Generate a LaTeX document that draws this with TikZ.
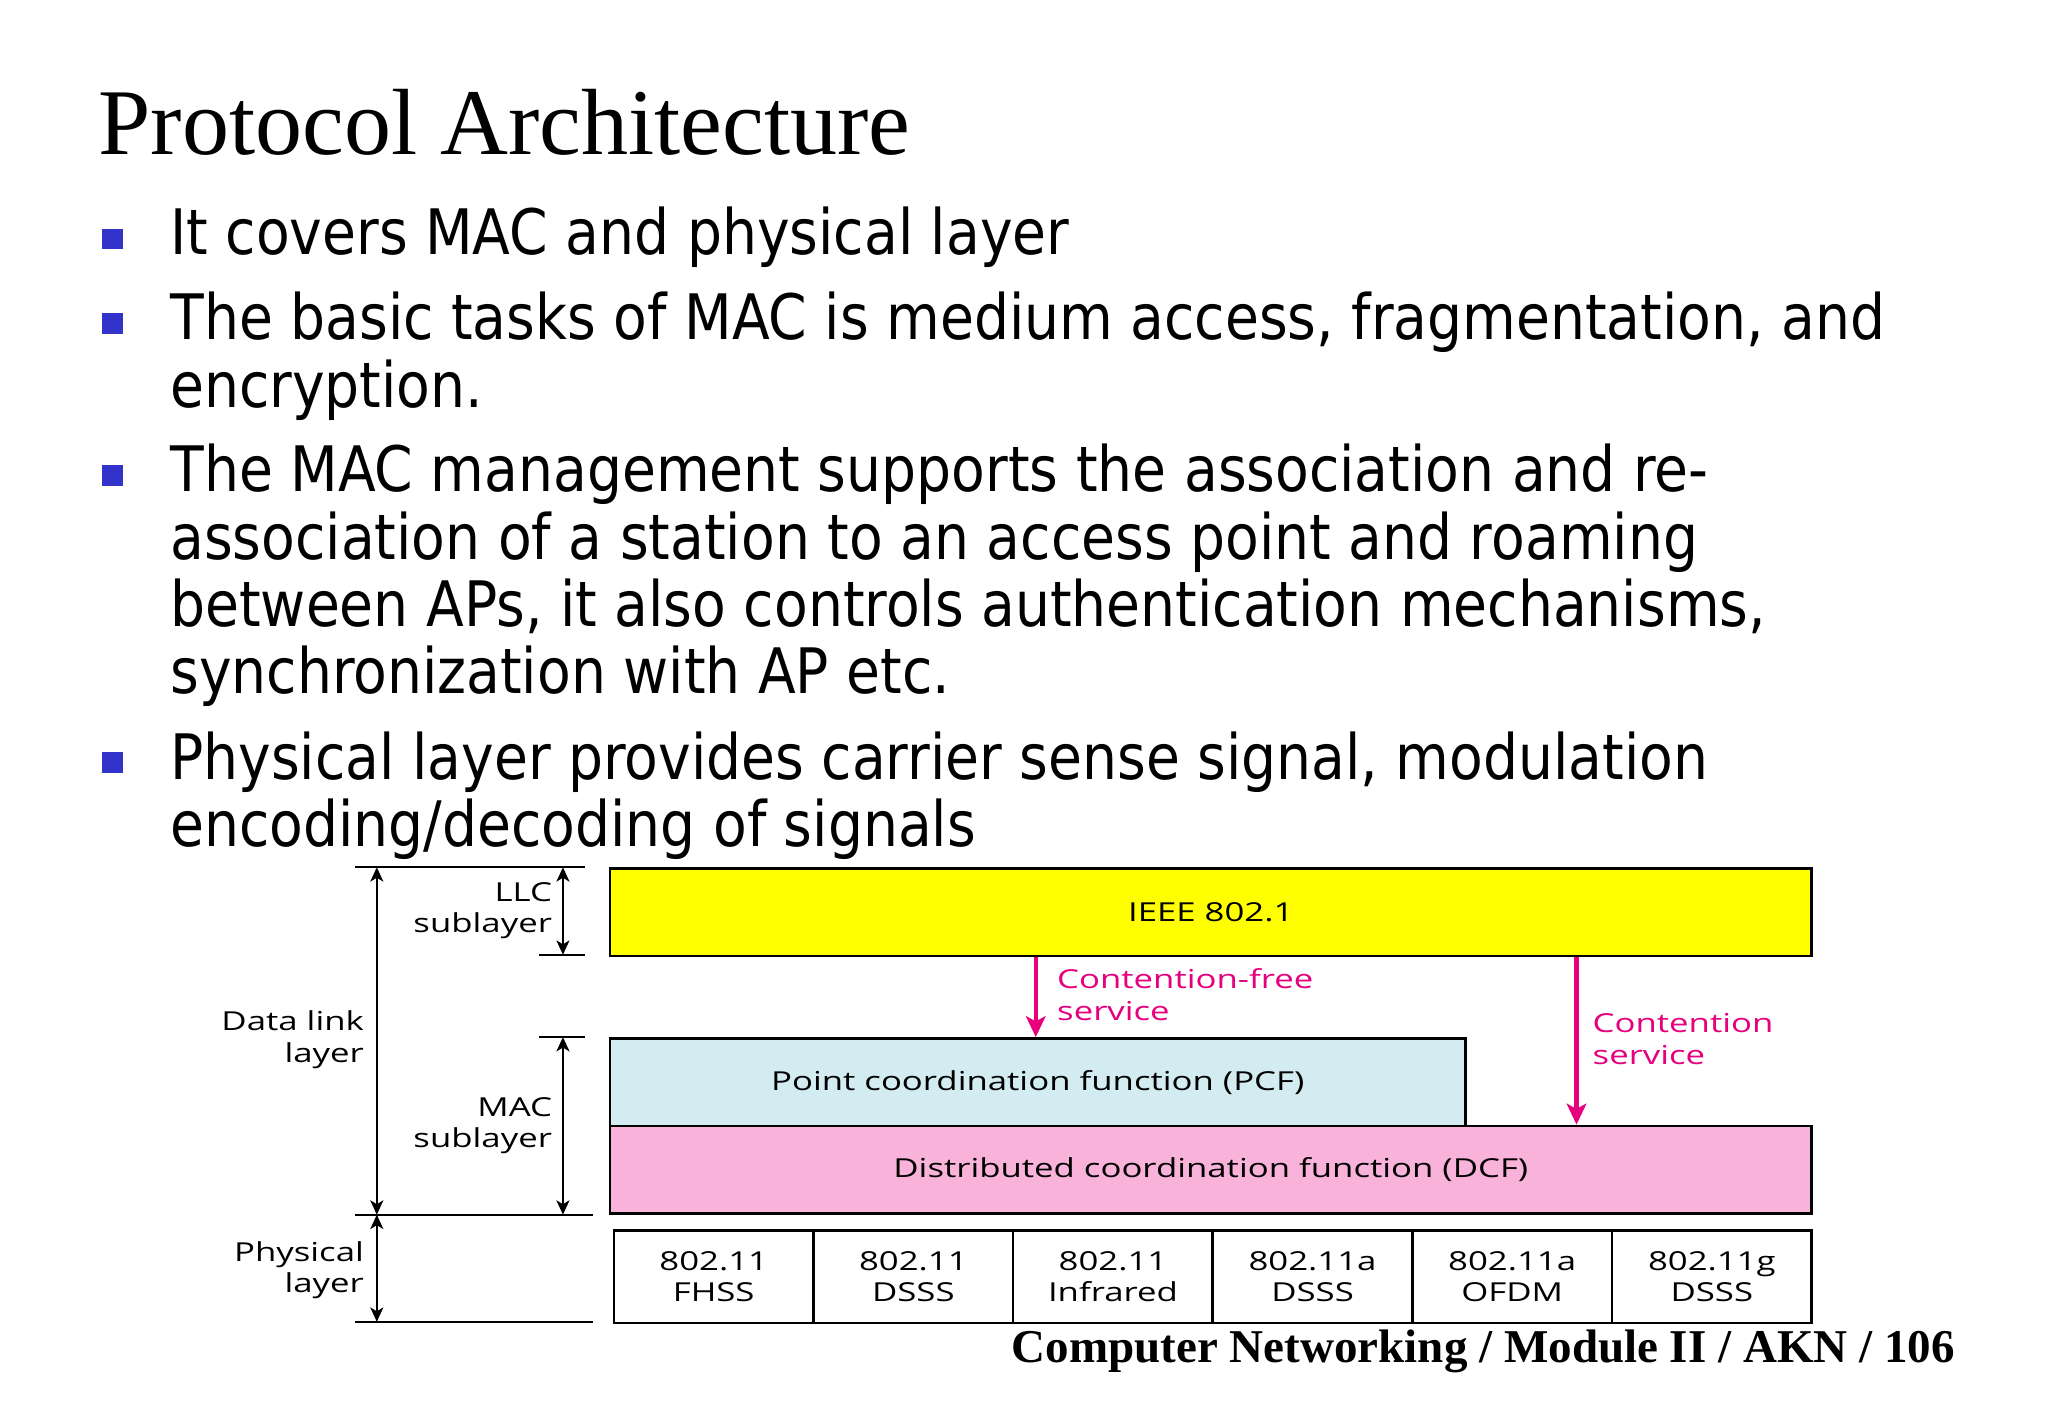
\documentclass[tikz,border=0pt]{standalone}
\usepackage{fontspec}
\setmainfont{Liberation Serif}
\newfontfamily\bodyfont[FakeStretch=0.88]{DejaVu Sans}
\newfontfamily\diafont[FakeStretch=1.33]{Open Sans}
\usetikzlibrary{arrows.meta}
\definecolor{bulletblue}{HTML}{3333CC}
\definecolor{ieeeyellow}{HTML}{FFFF00}
\definecolor{pcfblue}{HTML}{D2ECF2}
\definecolor{dcfpink}{HTML}{F9B2D9}
\definecolor{magentaline}{HTML}{E6007E}
\begin{document}
\begin{tikzpicture}[x=0.5pt,y=-0.5pt,
  bodyline/.style={anchor=base west,inner sep=0pt,font=\bodyfont\fontsize{24}{26}\selectfont},
  bulletsq/.style={fill=bulletblue,draw=none,minimum size=8pt,inner sep=0pt},
  box/.style={draw=black,line width=1pt,inner sep=0pt,anchor=north west,font=\diafont\fontsize{10}{12}\selectfont,text=black},
  cell/.style={box,minimum width=76.42pt,minimum height=35.5pt,align=center,fill=white},
  dlabel/.style={font=\diafont\fontsize{10}{12}\selectfont,align=right,anchor=east,inner sep=0pt},
  plabel/.style={font=\diafont\fontsize{10}{12}\selectfont,align=left,anchor=west,inner sep=0pt,text=magentaline},
  meas/.style={line width=0.7pt,draw=black},
  dim/.style={line width=0.7pt,draw=black,{Stealth[length=5.5pt,width=5pt,inset=1.5pt]}-{Stealth[length=5.5pt,width=5pt,inset=1.5pt]}},
  parrow/.style={line width=1.6pt,draw=magentaline,-{Stealth[length=8pt,width=7.5pt,inset=2pt]}}
]
\useasboundingbox[fill=white] (0,0) rectangle (1568,1085.6);

% title
\node[anchor=base west,inner sep=0pt,font=\fontsize{36}{40}\selectfont] (title) at (75,118) {Protocol Architecture};

% bullets
\node[bulletsq] (b1) at (86,183) {};
\node[bodyline] (l1) at (130,195) {It covers MAC and physical layer};
\node[bulletsq] (b2) at (86,248) {};
\node[bodyline] (l2) at (130,260) {The basic tasks of MAC is medium access, fragmentation, and};
\node[bodyline] (l2b) at (130,312) {encryption.};
\node[bulletsq] (b3) at (86,364) {};
\node[bodyline] (l3) at (130,376) {The MAC management supports the association and re-};
\node[bodyline] (l3b) at (130,428) {association of a station to an access point and roaming};
\node[bodyline] (l3c) at (130,480) {between APs, it also controls authentication mechanisms,};
\node[bodyline] (l3d) at (130,531) {synchronization with AP etc.};
\node[bulletsq] (b4) at (86,584) {};
\node[bodyline] (l4) at (130,597) {Physical layer provides carrier sense signal, modulation};
\node[bodyline] (l4b) at (130,648) {encoding/decoding of signals};

% diagram boxes
\node[box,fill=ieeeyellow,minimum width=460pt,minimum height=33.5pt] (ieee) at (466,664) {IEEE 802.1};
\node[box,fill=pcfblue,minimum width=327.5pt,minimum height=33.5pt] (pcf) at (466,794) {Point coordination function (PCF)};
\node[box,fill=dcfpink,minimum width=460pt,minimum height=33.5pt] (dcf) at (466,861) {Distributed coordination function (DCF)};

\node[cell] (c1) at (469,941) {802.11\\FHSS};
\node[cell] (c2) at (621.83,941) {802.11\\DSSS};
\node[cell] (c3) at (774.67,941) {802.11\\Infrared};
\node[cell] (c4) at (927.5,941) {802.11a\\DSSS};
\node[cell] (c5) at (1080.33,941) {802.11a\\OFDM};
\node[cell] (c6) at (1233.17,941) {802.11g\\DSSS};

% service arrows
\coordinate (cf) at (793,760);
\coordinate (ct) at (1207,790);
\draw[parrow] (ieee.south -| cf) -- (pcf.north -| cf);
\draw[parrow] (ieee.south -| ct) -- (dcf.north -| ct);
\node[plabel] (cflabel) at (809,761.5) {Contention-free\\service};
\node[plabel] (ctlabel) at (1219,795.5) {Contention\\service};

% left measurement lines
\coordinate (tl) at (272,664);
\coordinate (tr) at (448,664);
\coordinate (llcl) at (413,731);
\coordinate (llcr) at (448,731);
\coordinate (macl) at (413,794);
\coordinate (macr) at (448,794);
\coordinate (ml) at (272,930);
\coordinate (mr) at (454,930);
\coordinate (bl) at (272,1012);
\coordinate (br) at (454,1012);
\draw[meas] (tl) -- (tr);
\draw[meas] (llcl) -- (llcr);
\draw[meas] (macl) -- (macr);
\draw[meas] (ml) -- (mr);
\draw[meas] (bl) -- (br);

\coordinate (dx1) at (288.5,664);
\coordinate (dx2) at (288.5,930);
\coordinate (dx3) at (288.5,1012);
\coordinate (sx1) at (431,664);
\coordinate (sx2) at (431,731);
\coordinate (sx3) at (431,794);
\coordinate (sx4) at (431,930);
\draw[dim] (dx1) -- (dx2);
\draw[dim] (dx2) -- (dx3);
\draw[dim] (sx1) -- (sx2);
\draw[dim] (sx3) -- (sx4);

\node[dlabel] (llc) at (423,697) {LLC\\sublayer};
\node[dlabel] (dll) at (279,796) {Data link\\layer};
\node[dlabel] (mac) at (423,862) {MAC\\sublayer};
\node[dlabel] (phy) at (279,972.5) {Physical\\layer};

% footer
\node[anchor=base east,inner sep=0pt,font=\bfseries\fontsize{18}{20}\selectfont] (footer) at (1497,1043) {Computer Networking / Module II / AKN / 106};
\end{tikzpicture}
\end{document}
